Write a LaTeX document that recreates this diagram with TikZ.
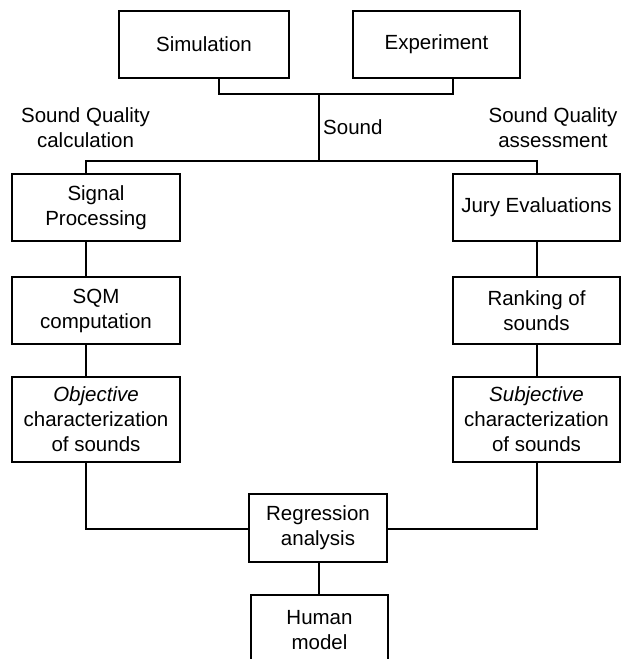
\documentclass[tikz,border=0pt]{standalone}
\usepackage{fontspec}
\setmainfont{Liberation Sans}
\begin{document}
\begin{tikzpicture}[x=1pt,y=-1pt,
  box/.style={draw=black,line width=2.5pt,fill=white,inner sep=0pt,align=center,
    font=\fontsize{20.5}{25}\selectfont},
  lbl/.style={inner sep=0pt,align=center,font=\fontsize{20.5}{25}\selectfont},
  conn/.style={draw=black,line width=2.5pt}]
\useasboundingbox (0,0) rectangle (621,659);
% junction coordinates
\coordinate (lx) at (86,0);
\coordinate (rx) at (537,0);
\coordinate (cx) at (319,0);
\coordinate (simx) at (219,0);
\coordinate (expx) at (453,0);
\coordinate (topbar) at (0,94);
\coordinate (midbar) at (0,161);
\coordinate (lowbar) at (0,529);
% boxes
\node[box,minimum width=170pt,minimum height=67pt] (sim) at (204,44.5) {Simulation};
\node[box,minimum width=167pt,minimum height=67pt] (exp) at (436.5,44.5) {Experiment};
\node[box,minimum width=168pt,minimum height=67pt] (sig) at (96,207.5) {Signal\\Processing};
\node[box,minimum width=168pt,minimum height=67pt] (sqm) at (96,310.5) {SQM\\computation};
\node[box,minimum width=168pt,minimum height=85pt] (obj) at (96,419.5) {\textit{Objective}\\characterization\\of sounds};
\node[box,minimum width=167pt,minimum height=67pt] (jury) at (536.5,207.5) {Jury Evaluations};
\node[box,minimum width=167pt,minimum height=67pt] (rank) at (536.5,310.5) {Ranking of\\sounds};
\node[box,minimum width=167pt,minimum height=85pt] (subj) at (536.5,419.5) {\textit{Subjective}\\characterization\\of sounds};
\node[box,minimum width=138pt,minimum height=68pt] (reg) at (318,528) {Regression\\analysis};
\node[box,minimum width=137pt,minimum height=70pt] (hum) at (319.5,630) {Human\\model};
% labels
\node[lbl] (sqc) at (85.5,127.5) {Sound Quality\\calculation};
\node[lbl] (sqa) at (553,127.5) {Sound Quality\\assessment};
\node[lbl,anchor=west] (snd) at (323,127) {Sound};
% connectors
\draw[conn] (sim.south -| simx) -- (simx |- topbar) -- (expx |- topbar) -- (exp.south -| expx);
\draw[conn] (cx |- topbar) -- (cx |- midbar);
\draw[conn] (sig.north -| lx) -- (lx |- midbar) -- (rx |- midbar) -- (jury.north -| rx);
\draw[conn] (sig.south -| lx) -- (sqm.north -| lx);
\draw[conn] (sqm.south -| lx) -- (obj.north -| lx);
\draw[conn] (jury.south -| rx) -- (rank.north -| rx);
\draw[conn] (rank.south -| rx) -- (subj.north -| rx);
\draw[conn] (obj.south -| lx) -- (lx |- lowbar) -- (reg.west |- lowbar);
\draw[conn] (subj.south -| rx) -- (rx |- lowbar) -- (reg.east |- lowbar);
\draw[conn] (reg.south -| cx) -- (hum.north -| cx);
\end{tikzpicture}
\end{document}
